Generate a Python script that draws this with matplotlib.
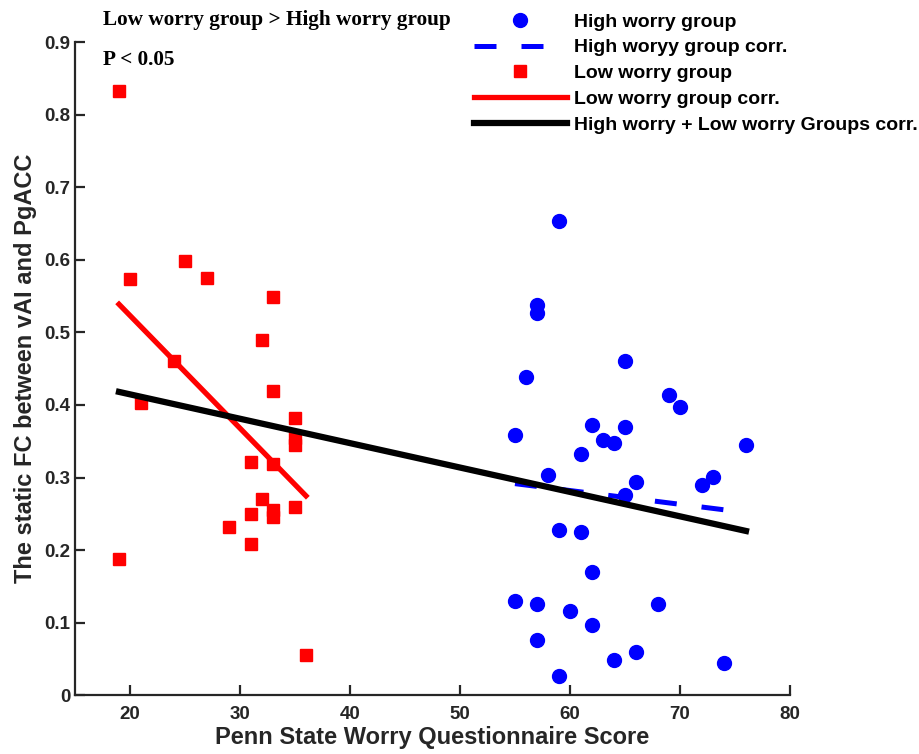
import numpy as np
import matplotlib
matplotlib.use("Agg")
import matplotlib.pyplot as plt

# Penn State Worry Questionnaire score vs static FC (vAI - PgACC)
low_x = [19, 20, 25, 27, 33, 32, 24, 21, 33, 35, 35, 35, 31, 33, 32, 31, 33, 33, 35, 29, 31, 19, 36]
low_y = [0.833, 0.573, 0.598, 0.575, 0.549, 0.489, 0.461, 0.403, 0.419, 0.382, 0.354, 0.345,
         0.321, 0.319, 0.271, 0.250, 0.255, 0.246, 0.260, 0.232, 0.209, 0.188, 0.055]

high_x = [59, 57, 57, 65, 56, 69, 70, 55, 62, 65, 63, 64, 61, 76, 58, 66, 73, 72, 65, 59,
          61, 62, 55, 57, 60, 68, 62, 57, 66, 64, 74, 59]
high_y = [0.653, 0.538, 0.527, 0.460, 0.439, 0.414, 0.397, 0.358, 0.372, 0.370, 0.352, 0.348,
          0.333, 0.345, 0.304, 0.294, 0.301, 0.290, 0.276, 0.228, 0.225, 0.170, 0.130, 0.126,
          0.116, 0.125, 0.097, 0.076, 0.060, 0.048, 0.045, 0.026]

legend_labels = ["High worry group", "High woryy group corr.", "Low worry group",
                 "Low worry group corr.", "High worry + Low worry Groups corr."]


def fit_line(x, y):
    # least squares line over the range of x
    x = np.asarray(x, float)
    y = np.asarray(y, float)
    k, b = np.polyfit(x, y, 1)
    xs = np.array([x.min(), x.max()])
    return xs, k * xs + b


fig = plt.figure(figsize=(9.19, 7.54), dpi=100)
ax = fig.add_axes([0.0816, 0.078, 0.778, 0.866])

h1, = ax.plot(high_x, high_y, "o", color="blue", markersize=10, label=legend_labels[0])
hx, hy = fit_line(high_x, high_y)
h2, = ax.plot(hx, hy, color="blue", lw=3.6, dashes=(4.4, 5), label=legend_labels[1])
h3, = ax.plot(low_x, low_y, "s", color="red", markersize=8.6, label=legend_labels[2])
lx, ly = fit_line(low_x, low_y)
h4, = ax.plot(lx, ly, color="red", lw=3.8, label=legend_labels[3])
ax_all, ay_all = fit_line(low_x + high_x, low_y + high_y)
h5, = ax.plot(ax_all, ay_all, color="black", lw=4.5, label=legend_labels[4])

ax.set_xlim(15, 80)
ax.set_ylim(0, 0.9)
ax.set_xticks(np.arange(20, 81, 10))
ax.set_yticks(np.arange(0, 0.91, 0.1))
ax.set_yticklabels(["0"] + ["%.1f" % v for v in np.arange(0.1, 0.91, 0.1)])

for s in ["top", "right"]:
    ax.spines[s].set_visible(False)
for s in ["left", "bottom"]:
    ax.spines[s].set_linewidth(1.6)
    ax.spines[s].set_color("#262626")
ax.tick_params(direction="in", length=7, width=1.6, color="#262626")
ax.tick_params(axis="x", pad=8)
ax.tick_params(axis="y", pad=3.5)

for lab in ax.get_xticklabels() + ax.get_yticklabels():
    lab.set_family("Liberation Sans")
    lab.set_fontweight("bold")
    lab.set_fontsize(13.5)
    lab.set_color("#262626")

ax.set_xlabel("Penn State Worry Questionnaire Score", family="Liberation Sans", fontweight="bold",
              fontsize=17, color="#262626", labelpad=2)
ax.set_ylabel("The static FC between vAI and PgACC", family="Liberation Sans", fontweight="bold",
              fontsize=17, color="#262626", labelpad=5)

fig.text(0.112, 0.973, "Low worry group > High worry group", family="Liberation Serif",
         fontweight="bold", fontsize=15.3, va="center")
fig.text(0.112, 0.920, "P < 0.05", family="Liberation Serif", fontweight="bold",
         fontsize=15.3, va="center")

leg = fig.legend(handles=[h1, h2, h3, h4, h5], loc="upper right", bbox_to_anchor=(1.018, 1.006),
                 frameon=False, handlelength=4.75, handletextpad=0.4, labelspacing=0.42,
                 prop={"family": "Liberation Sans", "weight": "bold", "size": 14})

fig.savefig("out.png", dpi=100)
